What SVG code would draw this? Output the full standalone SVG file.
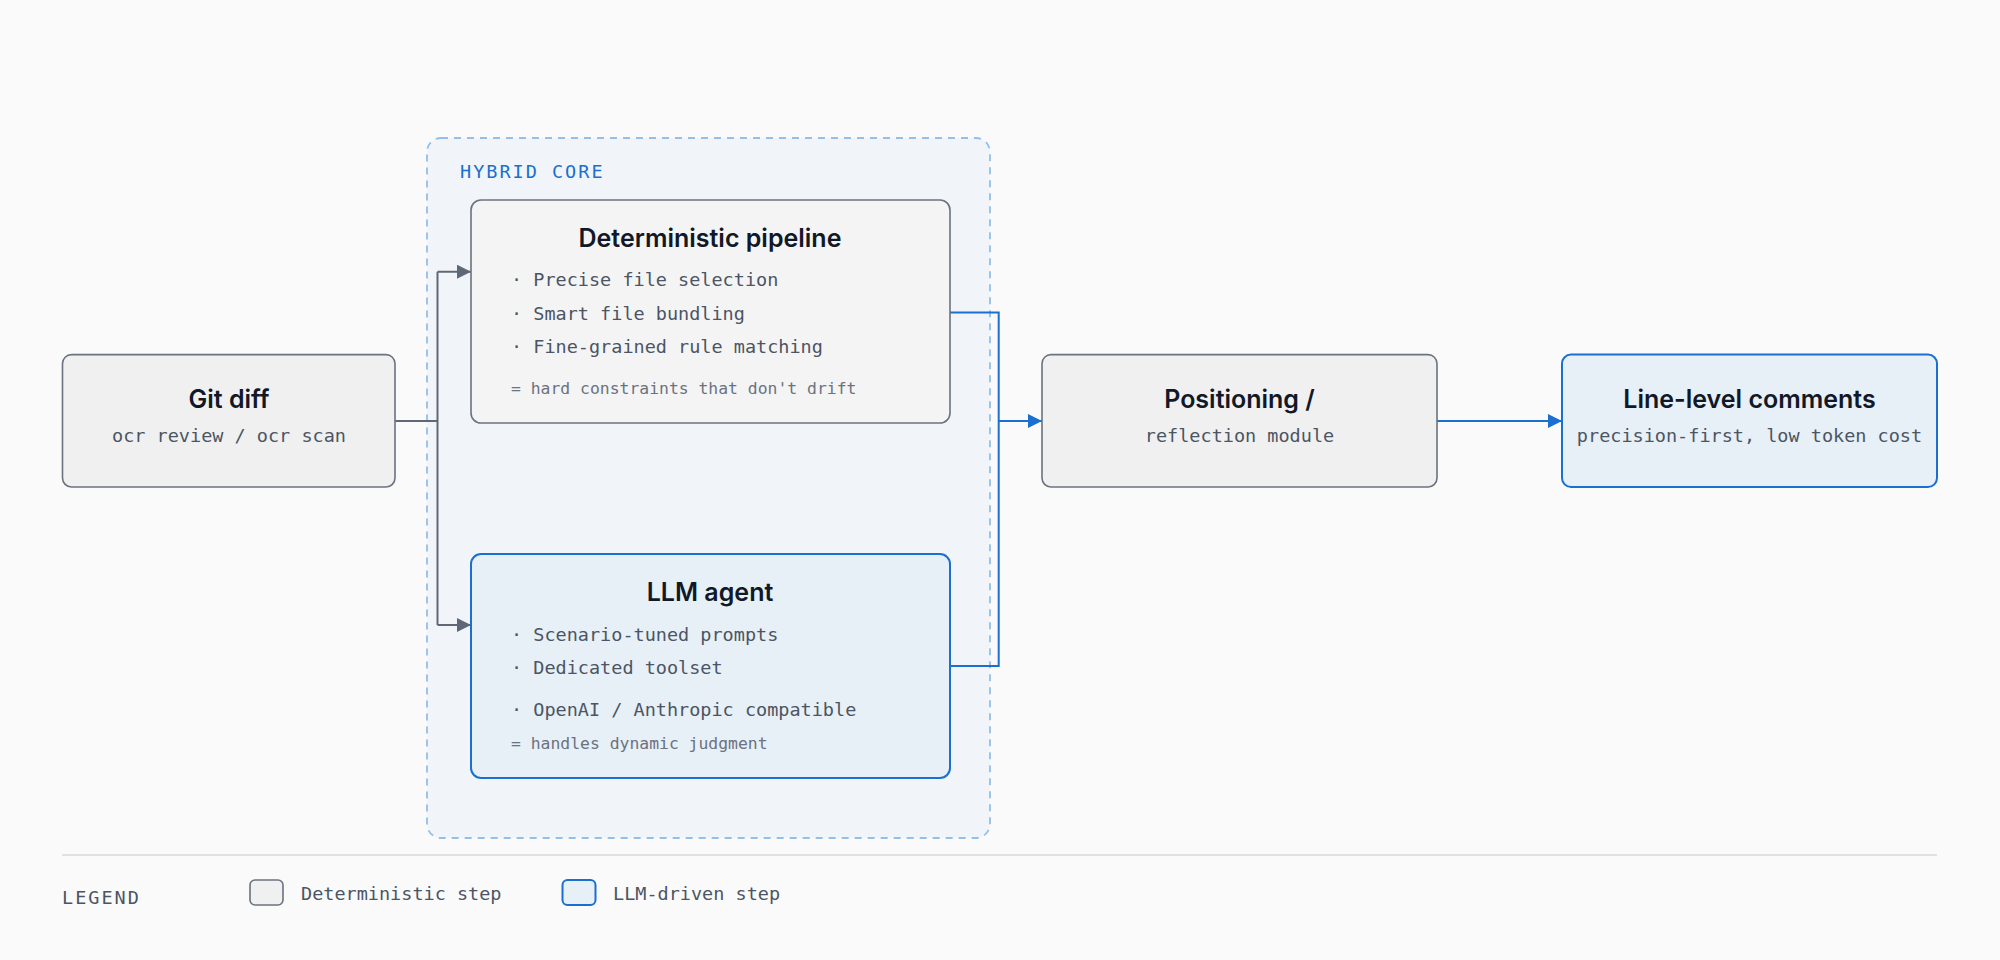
<svg xmlns="http://www.w3.org/2000/svg" width="2000" height="960" viewBox="0 0 2000 960">
<style>
.t{font-family:Inter,"Liberation Sans",sans-serif;font-weight:600;font-size:25px;fill:#111827;text-anchor:middle}
.m{font-family:"DejaVu Sans Mono","Liberation Mono",monospace;font-size:18.5px;fill:#4b5563}
.s{font-family:"DejaVu Sans Mono","Liberation Mono",monospace;font-size:16.4px;fill:#6b7280}
.g{fill:#f0f0f1;stroke:#6b7280;stroke-width:1.6}
.b{fill:#e7eff7;stroke:#1a6fd0;stroke-width:2}
.cg{fill:none;stroke:#5f6877;stroke-width:2}
.cb{fill:none;stroke:#1a6fd0;stroke-width:2}
</style>
<defs>
<marker id="ag" viewBox="0 0 10 10" refX="10" refY="5" markerWidth="7" markerHeight="7" orient="auto"><path d="M0,0L10,5L0,10z" fill="#5f6877"/></marker>
<marker id="ab" viewBox="0 0 10 10" refX="10" refY="5" markerWidth="7" markerHeight="7" orient="auto"><path d="M0,0L10,5L0,10z" fill="#1a6fd0"/></marker>
</defs>
<rect width="2000" height="960" fill="#fafafa"/>
<g id="hybrid-core">
<rect x="427" y="138" width="563" height="700" rx="14" fill="#f1f5f9" stroke="#93bfe8" stroke-width="1.8" stroke-dasharray="7 6"/>
<text x="460" y="178" class="m" style="fill:#1a6fd0;letter-spacing:2px">HYBRID CORE</text>
</g>
<g id="connectors">
<path class="cg" d="M395,421H437.5"/>
<path class="cg" d="M437.5,271.7V625"/>
<path class="cg" d="M437.5,271.7H471" marker-end="url(#ag)"/>
<path class="cg" d="M437.5,625H471" marker-end="url(#ag)"/>
<path class="cb" d="M950,312.5H998.7V666H950"/>
<path class="cb" d="M998.7,421H1042" marker-end="url(#ab)"/>
<path class="cb" d="M1437,421H1562" marker-end="url(#ab)"/>
</g>
<g id="git-diff">
<rect x="62.5" y="354.6" width="332.5" height="132.4" rx="9" class="g"/>
<text x="229" y="408" class="t">Git diff</text>
<text x="229" y="442" class="m" text-anchor="middle">ocr review / ocr scan</text>
</g>
<g id="deterministic">
<rect x="471" y="200" width="479" height="223" rx="10" class="g" style="fill:#f4f4f5"/>
<text x="710" y="247" class="t">Deterministic pipeline</text>
<text x="511" y="286" class="m">· Precise file selection</text>
<text x="511" y="320" class="m">· Smart file bundling</text>
<text x="511" y="353" class="m">· Fine-grained rule matching</text>
<text x="511" y="394" class="s">= hard constraints that don't drift</text>
</g>
<g id="llm-agent">
<rect x="471" y="554" width="479" height="224" rx="10" class="b"/>
<text x="710" y="601" class="t">LLM agent</text>
<text x="511" y="641" class="m">· Scenario-tuned prompts</text>
<text x="511" y="674" class="m">· Dedicated toolset</text>
<text x="511" y="716" class="m">· OpenAI / Anthropic compatible</text>
<text x="511" y="749" class="s">= handles dynamic judgment</text>
</g>
<g id="positioning">
<rect x="1042" y="354.6" width="395" height="132.4" rx="9" class="g"/>
<text x="1239.5" y="408" class="t">Positioning /</text>
<text x="1239.5" y="442" class="m" text-anchor="middle">reflection module</text>
</g>
<g id="line-level">
<rect x="1562" y="354.6" width="375" height="132.4" rx="9" class="b"/>
<text x="1749.5" y="408" class="t">Line-level comments</text>
<text x="1749.5" y="442" class="m" text-anchor="middle">precision-first, low token cost</text>
</g>
<g id="legend">
<line x1="62" y1="855" x2="1937" y2="855" stroke="#d9d9dc" stroke-width="1.6"/>
<text x="62" y="904" class="m" style="letter-spacing:2px">LEGEND</text>
<rect x="250" y="880" width="33" height="25" rx="5" class="g"/>
<text x="301" y="900" class="m">Deterministic step</text>
<rect x="562.5" y="880" width="33" height="25" rx="5" class="b"/>
<text x="613" y="900" class="m">LLM-driven step</text>
</g>
</svg>
